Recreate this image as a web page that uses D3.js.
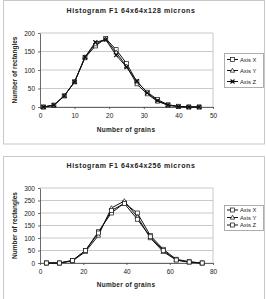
<!DOCTYPE html>
<html>
<head>
<meta charset="utf-8">
<script src="https://cdn.jsdelivr.net/npm/d3@7"></script>
<style>
  body { margin: 0; background: #fff; }
  text { font-family: "Liberation Sans", Arial, sans-serif; fill: #222; }
</style>
</head>
<body>
<div id="chart"></div>
<script>
// chart 1: 64x64x128
const grains1 = [1, 4, 7, 10, 13, 16, 19, 22, 25, 28, 31, 34, 37, 40, 43, 46];
const axisX1 = [0, 5, 30, 68, 133, 165, 185, 155, 118, 68, 40, 20, 6, 2, 0, 0];
const axisY1 = [0, 5, 30, 68, 135, 170, 183, 148, 110, 62, 35, 15, 5, 1, 0, 0];
const axisZ1 = [0, 5, 30, 68, 135, 175, 182, 140, 108, 70, 38, 17, 5, 1, 0, 0];
const xTicks1 = [0, 10, 20, 30, 40, 50];
const yTicks1 = [0, 50, 100, 150, 200];

// chart 2: 64x64x256
const grains2 = [3, 9, 15, 21, 27, 33, 39, 45, 51, 57, 63, 69, 75];
const axisX2 = [0, 0, 10, 50, 125, 200, 240, 200, 110, 55, 15, 5, 0];
const axisY2 = [0, 0, 8, 45, 110, 220, 248, 185, 100, 45, 12, 3, 0];
const axisZ2 = [0, 0, 10, 50, 120, 210, 238, 175, 105, 50, 12, 4, 0];
const xTicks2 = [0, 20, 40, 60, 80];
const yTicks2 = [0, 50, 100, 150, 200, 250, 300];

const seriesNames = ["Axis X", "Axis Y", "Axis Z"];

const width = 266, height = 299;
const svg = d3.select("#chart").append("svg")
    .attr("width", width)
    .attr("height", height);

function drawChart(cfg) {
    const g = svg.append("g").attr("transform", `translate(0,${cfg.top})`);

    g.append("rect")
        .attr("x", 3.5).attr("y", cfg.frameY)
        .attr("width", 261).attr("height", cfg.frameH)
        .attr("fill", "#fff").attr("stroke", "#c8c8c8");

    const x = d3.scaleLinear().domain(cfg.xDomain).range([40, 213]);
    const y = d3.scaleLinear().domain(cfg.yDomain).range([cfg.plotBottom, cfg.plotTop]);

    // gridlines
    g.selectAll(".grid").data(cfg.yTicks).enter().append("line")
        .attr("x1", 40).attr("x2", 213)
        .attr("y1", d => y(d)).attr("y2", d => y(d))
        .attr("stroke", "#bbb").attr("stroke-width", 0.8);
    g.append("line").attr("x1", 213).attr("x2", 213)
        .attr("y1", cfg.plotTop).attr("y2", cfg.plotBottom)
        .attr("stroke", "#bbb").attr("stroke-width", 0.8);

    const xAxis = g.append("g")
        .attr("transform", `translate(0,${cfg.plotBottom})`)
        .call(d3.axisBottom(x).tickValues(cfg.xTicks).tickSize(2).tickSizeOuter(0));
    const yAxis = g.append("g")
        .attr("transform", "translate(40,0)")
        .call(d3.axisLeft(y).tickValues(cfg.yTicks).tickSize(2).tickSizeOuter(0));
    [xAxis, yAxis].forEach(a => {
        a.selectAll("path, line").attr("stroke", "#444").attr("stroke-width", 0.8);
        a.selectAll("text").attr("font-size", 6.5).attr("fill", "#222")
            .style("font-family", "Liberation Sans, Arial, sans-serif");
    });
    xAxis.selectAll("text").attr("dy", "0.9em");

    g.append("text")
        .attr("x", 131).attr("y", cfg.titleY)
        .attr("text-anchor", "middle")
        .attr("font-size", 7).attr("font-weight", "bold")
        .attr("letter-spacing", 0.6)
        .text(cfg.title);

    g.append("text")
        .attr("x", 126).attr("y", cfg.xLabelY)
        .attr("text-anchor", "middle")
        .attr("font-size", 6.5).attr("font-weight", "bold")
        .attr("letter-spacing", 0.3)
        .text("Number of grains");

    g.append("text")
        .attr("transform", `translate(17,${(cfg.plotTop + cfg.plotBottom) / 2}) rotate(-90)`)
        .attr("text-anchor", "middle")
        .attr("font-size", 6.5).attr("font-weight", "bold")
        .text("Number of rectangles");

    const line = d3.line().x(d => x(d[0])).y(d => y(d[1]));

    cfg.series.forEach((vals, i) => {
        const pts = cfg.grains.map((gx, j) => [gx, vals[j]]);
        g.append("path").datum(pts)
            .attr("d", line)
            .attr("fill", "none")
            .attr("stroke", "#111")
            .attr("stroke-width", 1);
        pts.forEach(p => drawMarker(g, cfg.markers[i], x(p[0]), y(p[1])));
    });

    // legend
    const lg = g.append("g").attr("transform", `translate(224,${cfg.legendTop})`);
    lg.append("rect")
        .attr("x", 0.5).attr("y", 0.5)
        .attr("width", 39).attr("height", cfg.legendH)
        .attr("fill", "#fff").attr("stroke", "#999").attr("stroke-width", 0.8);
    seriesNames.forEach((name, i) => {
        const ly = cfg.legendPad + i * cfg.legendStep;
        lg.append("line").attr("x1", 3).attr("x2", 14)
            .attr("y1", ly).attr("y2", ly)
            .attr("stroke", "#111").attr("stroke-width", 1);
        drawMarker(lg, cfg.markers[i], 8.5, ly);
        lg.append("text").attr("x", 16).attr("y", ly + 2)
            .attr("font-size", 5.8).text(name);
    });
}

function drawMarker(g, type, cx, cy) {
    if (type === "square") {
        g.append("rect").attr("x", cx - 2).attr("y", cy - 2)
            .attr("width", 4).attr("height", 4)
            .attr("fill", "#fff").attr("stroke", "#111").attr("stroke-width", 0.7);
    } else if (type === "triangle") {
        g.append("path")
            .attr("d", `M${cx},${cy - 2.3}L${cx + 2.2},${cy + 1.7}L${cx - 2.2},${cy + 1.7}Z`)
            .attr("fill", "#fff").attr("stroke", "#111").attr("stroke-width", 0.7);
    } else {
        g.append("path")
            .attr("d", `M${cx - 2},${cy - 2}L${cx + 2},${cy + 2}M${cx - 2},${cy + 2}L${cx + 2},${cy - 2}`)
            .attr("stroke", "#111").attr("stroke-width", 1.1);
        g.append("rect").attr("x", cx - 1).attr("y", cy - 1)
            .attr("width", 2).attr("height", 2).attr("fill", "#111");
    }
}

drawChart({
    top: 0, title: "Histogram F1 64x64x128 microns", titleY: 13,
    frameY: 0.5, frameH: 143.5,
    grains: grains1, series: [axisX1, axisY1, axisZ1],
    markers: ["square", "triangle", "cross"],
    xDomain: [0, 50], yDomain: [0, 200], xTicks: xTicks1, yTicks: yTicks1,
    plotTop: 33, plotBottom: 107, xLabelY: 132,
    legendTop: 53, legendH: 34, legendPad: 6.5, legendStep: 11
});

drawChart({
    top: 155, title: "Histogram F1 64x64x256 microns", titleY: 13,
    frameY: 1.5, frameH: 150,
    grains: grains2, series: [axisX2, axisY2, axisZ2],
    markers: ["square", "triangle", "square"],
    xDomain: [0, 80], yDomain: [0, 300], xTicks: xTicks2, yTicks: yTicks2,
    plotTop: 33, plotBottom: 108, xLabelY: 132,
    legendTop: 50, legendH: 25, legendPad: 5, legendStep: 7.5
});
</script>
</body>
</html>
